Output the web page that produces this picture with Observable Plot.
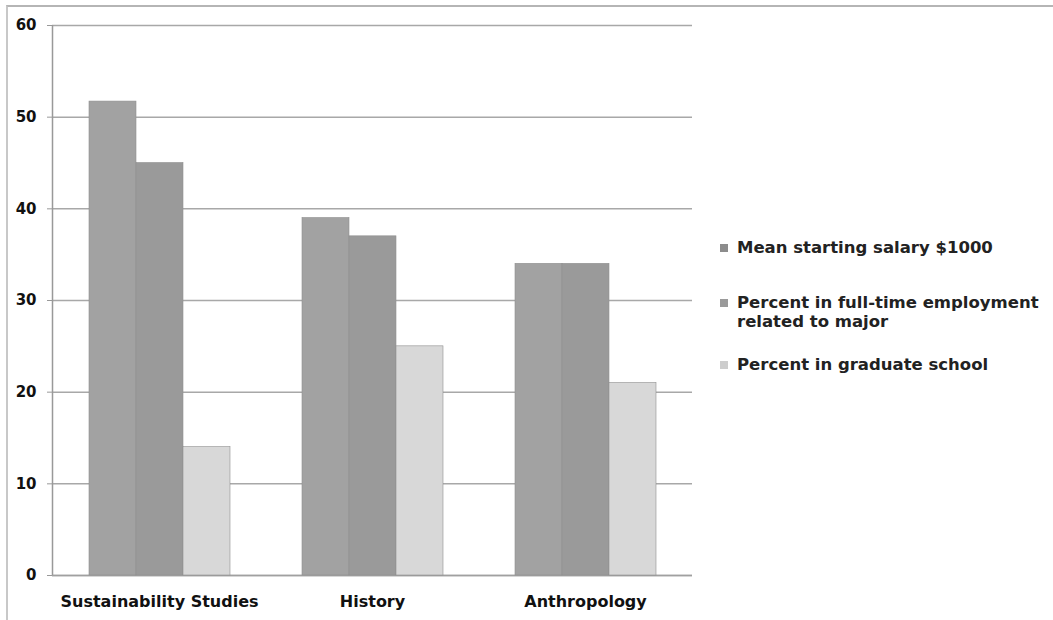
<!DOCTYPE html>
<html>
<head>
<meta charset="utf-8">
<script src="https://cdn.jsdelivr.net/npm/d3@7"></script>
<script src="https://cdn.jsdelivr.net/npm/@observablehq/plot@0.6"></script>
<style>
  body { margin: 0; background: #fff; font-family: "DejaVu Sans", sans-serif; }
  #wrap { position: relative; width: 1053px; height: 620px; overflow: hidden; }
  #frame { position: absolute; left: 6px; top: 5px; width: 1060px; height: 640px;
           border-top: 2px solid #b5b5b5; border-left: 2px solid #c8c8c8; }
  .layer { position: absolute; left: 0; top: 0; }
  #legend { position: absolute; left: 720px; top: 0; font-weight: bold; font-size: 16.5px; color: #222; }
  .item { position: absolute; white-space: nowrap; line-height: 19px; }
  .sw { position: absolute; left: 0; top: 6px; width: 8px; height: 8px; }
  .lbl { position: absolute; left: 17px; top: 0; }
</style>
</head>
<body>
<div id="wrap">
  <div id="frame"></div>
  <div id="bg" class="layer"></div>
  <div id="fg" class="layer"></div>
  <div id="legend"></div>
</div>
<script>
const majors = ["Sustainability Studies", "History", "Anthropology"];
const seriesNames = ["Mean starting salary $1000", "Percent in full-time employment related to major", "Percent in graduate school"];
const salary = [51.7, 39, 34];
const employment = [45, 37, 34];
const gradSchool = [14, 25, 21];
const yTicks = [0, 10, 20, 30, 40, 50, 60];
const barColors = ["#a2a2a2", "#9a9a9a", "#d8d8d8"];
const swatchColors = ["#8c8c8c", "#9a9a9a", "#cdcdcd"];
const legendLines = [["Mean starting salary $1000"], ["Percent in full-time employment", "related to major"], ["Percent in graduate school"]];

const seriesValues = [salary, employment, gradSchool];
const data = [];
majors.forEach((m, i) => {
  seriesNames.forEach((s, j) => data.push({major: m, series: s, value: seriesValues[j][i]}));
});

const common = {
  width: 700,
  height: 620,
  marginTop: 25,
  marginBottom: 45,
  marginLeft: 52,
  marginRight: 8,
  style: {fontFamily: "DejaVu Sans, sans-serif", fontWeight: "bold", fontSize: "15px", color: "#111", background: "transparent"},
  y: {domain: [0, 60], ticks: yTicks, label: null}
};

// Background: gridlines, y axis, baseline
const bg = Plot.plot({
  ...common,
  x: {domain: [0, 1], axis: null},
  marks: [
    Plot.gridY(yTicks, {stroke: "#a8a8a8", strokeOpacity: 1, strokeWidth: 1.5}),
    Plot.axisY(yTicks, {tickSize: 5, tickPadding: 11, stroke: "#999", fontSize: 15, fontWeight: "bold", label: null}),
    Plot.ruleY([0], {stroke: "#a0a0a0", strokeWidth: 1.5}),
    Plot.ruleX([0], {stroke: "#999", strokeWidth: 1.5})
  ]
});
document.getElementById("bg").appendChild(bg);

// Foreground: grouped bars
const fg = Plot.plot({
  ...common,
  fx: {domain: majors, paddingInner: 0.333, paddingOuter: 0.1667, label: null, axis: null},
  x: {domain: seriesNames, axis: null, padding: 0},
  y: {domain: [0, 60], axis: null},
  color: {domain: seriesNames, range: barColors},
  marks: [
    Plot.axisFx({anchor: "bottom", tickSize: 0, tickPadding: 20, fontSize: 16, fontWeight: "bold", label: null}),
    Plot.barY(data, {fx: "major", x: "series", y: "value", fill: "series", stroke: "#8f8f8f", strokeWidth: 0.6})
  ]
});
document.getElementById("fg").appendChild(fg);

const legend = document.getElementById("legend");
const tops = [238, 293, 355];
legendLines.forEach((lines, i) => {
  const it = document.createElement("div");
  it.className = "item";
  it.style.top = tops[i] + "px";
  const sw = document.createElement("div");
  sw.className = "sw";
  sw.style.background = swatchColors[i];
  it.appendChild(sw);
  const lb = document.createElement("div");
  lb.className = "lbl";
  lb.innerHTML = lines.join("<br>");
  it.appendChild(lb);
  legend.appendChild(it);
});
</script>
</body>
</html>
